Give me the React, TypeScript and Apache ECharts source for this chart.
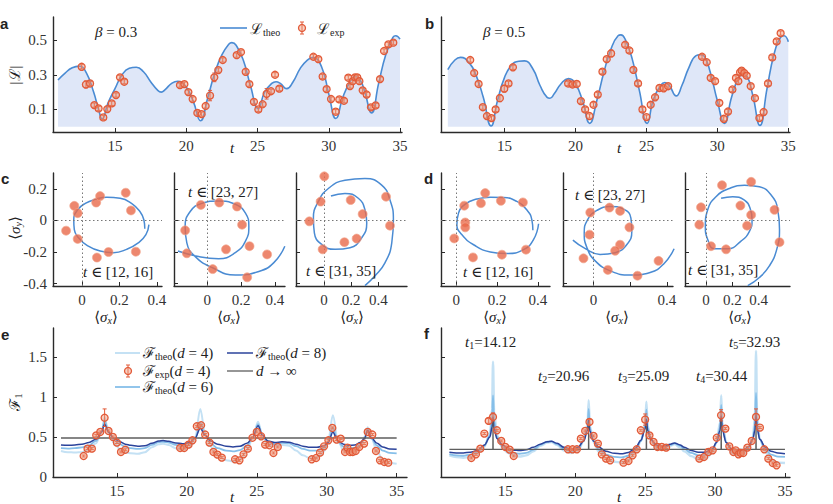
import React, { useEffect, useRef } from "react";
import * as echarts from "echarts";

type P = [number, number];
type E = [number, number, number?];

// ---------------- ticks / labels ----------------
const tTicks = [15, 20, 25, 30, 35];
const lTicks = [0.1, 0.3, 0.5];
const sigTicksY = [-0.4, -0.2, 0, 0.2];
const sigTicksX = [0, 0.2, 0.4];
const d2LabelsX = [0, 0.4];
const fTicks = [0, 0.5, 1, 1.5];
const betas = [0.3, 0.5];
const tRanges = [[12, 16], [23, 27], [31, 35]];
const peakTimes = [14.12, 20.96, 25.09, 30.44, 32.93];
const spikeHeights = [0.72, 0.68, 0.66, 0.72, 0.68];
const fInfBase = 0.346;
const eInf = 0.487;
const dValues = [4, 6, 8];
const errDefault = 0.012;

// ---------------- panel a / b ----------------
const aTheo: P[] = [
  [11.0, 0.27], [11.5, 0.31], [12.0, 0.34], [12.5, 0.35], [13.0, 0.31], [13.5, 0.2], [13.85, 0.1], [14.1, 0.045],
  [14.5, 0.135], [15.0, 0.22], [15.5, 0.3], [16.0, 0.337], [16.5, 0.343], [17.0, 0.317], [17.5, 0.26], [18.0, 0.21],
  [18.25, 0.2], [18.5, 0.213], [19.0, 0.252], [19.4, 0.263], [20.0, 0.23], [20.5, 0.145], [21.0, 0.035], [21.5, 0.165],
  [22.0, 0.31], [22.5, 0.415], [23.0, 0.477], [23.2, 0.485], [23.5, 0.47], [24.0, 0.385], [24.5, 0.24], [25.05, 0.105],
  [25.5, 0.2], [26.0, 0.25], [26.3, 0.26], [26.6, 0.25], [27.05, 0.22], [27.5, 0.26], [28.0, 0.337], [28.5, 0.385],
  [28.9, 0.4], [29.5, 0.345], [30.0, 0.19], [30.5, 0.048], [31.0, 0.173], [31.5, 0.26], [31.85, 0.29], [32.2, 0.27],
  [32.5, 0.21], [33.0, 0.08], [33.5, 0.25], [34.0, 0.415], [34.5, 0.515], [34.7, 0.525], [35.0, 0.505],
];
const aExp: E[] = [
  [12.66, 0.346], [12.96, 0.244, 0.02], [13.25, 0.25], [13.55, 0.125], [13.85, 0.106], [14.18, 0.054], [14.46, 0.102],
  [14.77, 0.135], [15.07, 0.183], [15.35, 0.285], [15.65, 0.26],
  [19.56, 0.24], [19.87, 0.246], [20.15, 0.2], [20.45, 0.16], [20.78, 0.08], [21.08, 0.073], [21.36, 0.12],
  [21.67, 0.18, 0.03], [21.97, 0.285, 0.025], [22.25, 0.327], [22.56, 0.385],
  [23.54, 0.413], [23.84, 0.43], [24.17, 0.317], [24.43, 0.246], [24.75, 0.144], [25.06, 0.1], [25.36, 0.13],
  [25.64, 0.19, 0.03], [25.95, 0.205], [26.23, 0.3], [26.53, 0.22],
  [28.92, 0.404], [29.27, 0.39], [29.57, 0.29], [29.85, 0.217], [30.16, 0.16], [30.49, 0.087], [30.74, 0.158],
  [31.07, 0.15], [31.37, 0.283], [31.49, 0.235], [31.68, 0.263], [31.84, 0.285], [32.0, 0.285], [32.15, 0.263],
  [32.38, 0.21], [32.66, 0.186], [32.96, 0.112], [33.29, 0.123], [33.6, 0.275], [33.88, 0.437], [34.18, 0.475],
  [34.53, 0.485],
];
const bTheo: P[] = [
  [11.0, 0.33], [11.5, 0.385], [11.9, 0.4], [12.5, 0.37], [13.0, 0.295], [13.5, 0.17], [14.05, 0.005], [14.5, 0.15],
  [15.0, 0.285], [15.5, 0.356], [16.0, 0.378], [16.4, 0.38], [17.0, 0.333], [17.5, 0.238], [18.0, 0.17], [18.2, 0.165],
  [18.5, 0.19], [19.0, 0.25], [19.5, 0.278], [20.0, 0.247], [20.5, 0.15], [21.0, 0.02], [21.5, 0.15], [22.0, 0.314],
  [22.5, 0.448], [23.0, 0.525], [23.2, 0.53], [23.5, 0.505], [24.0, 0.39], [24.5, 0.21], [25.05, 0.02], [25.5, 0.16],
  [26.0, 0.238], [26.3, 0.255], [26.6, 0.24], [27.1, 0.178], [27.5, 0.238], [28.0, 0.343], [28.5, 0.41], [28.8, 0.415],
  [29.1, 0.405], [29.5, 0.314], [30.0, 0.15], [30.5, 0.02], [31.0, 0.17], [31.5, 0.285], [31.8, 0.3], [32.1, 0.29],
  [32.5, 0.18], [33.0, 0.008], [33.5, 0.22], [34.0, 0.42], [34.5, 0.52], [34.7, 0.525], [35.0, 0.49],
];
const bExp: E[] = [
  [12.58, 0.385], [12.86, 0.31], [13.17, 0.247], [13.47, 0.113], [13.76, 0.062], [14.08, 0.05], [14.37, 0.1],
  [14.67, 0.165, 0.02], [14.98, 0.22, 0.02], [15.28, 0.25], [15.59, 0.343],
  [19.48, 0.25], [19.79, 0.244], [20.09, 0.247], [20.38, 0.148], [20.68, 0.1], [20.99, 0.062], [21.27, 0.127],
  [21.57, 0.186], [21.9, 0.318], [22.2, 0.39], [22.51, 0.423, 0.02],
  [23.5, 0.473], [23.8, 0.44], [24.08, 0.328], [24.41, 0.25], [24.72, 0.1], [25.0, 0.056], [25.3, 0.127],
  [25.61, 0.17], [25.92, 0.224], [26.22, 0.222], [26.53, 0.234],
  [28.92, 0.404], [29.25, 0.372], [29.53, 0.282], [29.84, 0.263], [30.14, 0.138], [30.45, 0.046], [30.75, 0.088],
  [31.06, 0.215], [31.31, 0.282], [31.48, 0.263], [31.6, 0.314], [31.71, 0.324], [31.9, 0.31], [32.07, 0.295],
  [32.35, 0.234], [32.65, 0.165], [32.96, 0.05], [33.26, 0.085], [33.57, 0.25], [33.87, 0.4], [34.18, 0.492],
  [34.46, 0.54],
];

// ---------------- panel c / d (Bloch trajectories) ----------------
const c1Curve: P[] = [
  [0.336, -0.052], [0.331, 0.004], [0.31, 0.056], [0.265, 0.108], [0.204, 0.14], [0.133, 0.146], [0.071, 0.133],
  [0.018, 0.108], [-0.023, 0.067], [-0.044, 0.004], [-0.041, -0.058], [-0.018, -0.11], [0.027, -0.158],
  [0.097, -0.194], [0.168, -0.204], [0.239, -0.183], [0.301, -0.142], [0.342, -0.09], [0.358, -0.027],
];
const c1Exp: P[] = [
  [-0.085, -0.065], [-0.041, 0.092], [-0.023, 0.046], [-0.023, -0.117], [0.076, 0.113], [0.097, 0.154],
  [0.142, -0.2], [0.08, -0.235], [0.234, 0.175], [0.262, 0.063], [0.288, -0.198],
];
const c2Curve: P[] = [
  [-0.174, -0.194], [-0.051, -0.229], [0.067, -0.242], [0.166, -0.204], [0.226, -0.131], [0.246, -0.038],
  [0.226, 0.046], [0.166, 0.102], [0.067, 0.123], [-0.032, 0.108], [-0.101, 0.056], [-0.131, -0.038],
  [-0.121, -0.142], [-0.071, -0.229], [0.028, -0.298], [0.166, -0.346], [0.305, -0.323], [0.394, -0.267],
  [0.459, -0.163],
];
const c2Exp: P[] = [
  [-0.038, 0.098], [0.071, 0.113], [0.176, 0.088], [0.206, -0.027], [-0.131, -0.063], [0.111, -0.183],
  [0.25, -0.163], [-0.121, -0.208], [0.354, -0.215], [0.032, -0.308], [0.236, -0.36],
];
const c3Curve: P[] = [
  [0.051, 0.154], [0.154, 0.171], [0.252, 0.14], [0.301, 0.067], [0.314, -0.017], [0.277, -0.11], [0.191, -0.173],
  [0.081, -0.183], [-0.017, -0.152], [-0.071, -0.079], [-0.078, 0.015], [-0.042, 0.119], [0.032, 0.202],
  [0.154, 0.254], [0.301, 0.265], [0.424, 0.223], [0.485, 0.129], [0.51, 0.004], [0.498, -0.142], [0.449, -0.267],
  [0.375, -0.35], [0.301, -0.413],
];
const c3Exp: P[] = [
  [0.002, 0.279], [-0.025, 0.119], [-0.108, -0.006], [0.196, 0.129], [0.284, 0.04], [0.456, 0.15], [0.485, -0.033],
  [-0.01, -0.183], [0.15, -0.138], [0.24, -0.115],
];
const d1Curve: P[] = [
  [0.376, -0.063], [0.371, 0.004], [0.346, 0.067], [0.297, 0.12], [0.232, 0.145], [0.167, 0.147], [0.101, 0.135],
  [0.044, 0.103], [0.011, 0.046], [0.003, -0.027], [0.028, -0.091], [0.085, -0.154], [0.167, -0.2], [0.248, -0.21],
  [0.33, -0.185], [0.379, -0.122], [0.404, -0.021],
];
const d1Exp: P[] = [
  [0.039, 0.093], [0.142, 0.173], [0.121, 0.109], [0.219, 0.124], [0.327, 0.114], [0.044, -0.013], [0.044, -0.044],
  [-0.01, -0.114], [0.082, -0.234], [0.224, -0.217], [0.342, -0.185],
];
const d2Curve: P[] = [
  [-0.113, -0.125], [-0.045, -0.179], [0.036, -0.215], [0.118, -0.204], [0.182, -0.152], [0.209, -0.069],
  [0.204, 0.015], [0.164, 0.071], [0.091, 0.088], [0.018, 0.063], [-0.033, 0.004], [-0.051, -0.079],
  [-0.036, -0.173], [0.009, -0.256], [0.091, -0.319], [0.2, -0.346], [0.309, -0.329], [0.382, -0.277],
  [0.44, -0.179],
];
const d2Exp: P[] = [
  [-0.018, 0.05], [0.087, 0.081], [0.145, 0.06], [0.196, -0.044], [-0.022, -0.09], [0.145, -0.154], [0.118, -0.192],
  [-0.055, -0.24], [0.078, -0.313], [0.24, -0.35], [0.355, -0.256],
];
const d3Curve: P[] = [
  [0.115, 0.14], [0.204, 0.15], [0.293, 0.129], [0.336, 0.077], [0.351, 0.004], [0.331, -0.069], [0.267, -0.131],
  [0.165, -0.179], [0.064, -0.179], [0.013, -0.121], [-0.005, -0.038], [0.013, 0.067], [0.076, 0.15],
  [0.178, 0.202], [0.293, 0.223], [0.407, 0.213], [0.496, 0.161], [0.547, 0.067], [0.56, -0.058], [0.539, -0.183],
  [0.483, -0.288], [0.407, -0.361], [0.318, -0.413],
];
const d3Exp: P[] = [
  [0.122, 0.223], [0.344, 0.244], [0.262, 0.094], [0.344, 0.035], [0.313, -0.033], [-0.038, 0.083], [-0.051, -0.027],
  [0.522, 0.067], [0.56, -0.138], [0.038, -0.163], [0.153, -0.183],
];

// ---------------- panel e ----------------
const eTheo4: P[] = [
  [11, 0.325], [11.5, 0.31], [12, 0.305], [12.5, 0.31], [13, 0.34], [13.5, 0.42], [13.9, 0.56], [14.12, 0.74],
  [14.4, 0.56], [14.8, 0.42], [15.2, 0.35], [15.6, 0.31], [16, 0.295], [16.5, 0.29], [17, 0.31], [17.5, 0.37],
  [18, 0.41], [18.3, 0.415], [18.7, 0.4], [19.2, 0.36], [19.7, 0.34], [20.2, 0.37], [20.6, 0.5], [20.96, 0.85],
  [21.3, 0.55], [21.7, 0.38], [22.2, 0.27], [22.8, 0.21], [23.3, 0.195], [23.8, 0.22], [24.3, 0.33], [24.7, 0.48],
  [25.09, 0.69], [25.4, 0.52], [25.8, 0.4], [26.3, 0.38], [26.8, 0.4], [27.3, 0.39], [27.8, 0.33], [28.3, 0.27],
  [28.8, 0.235], [29.3, 0.24], [29.8, 0.32], [30.1, 0.45], [30.44, 0.77], [30.8, 0.45], [31.2, 0.33], [31.6, 0.31],
  [32, 0.32], [32.4, 0.39], [32.7, 0.5], [32.93, 0.62], [33.2, 0.48], [33.6, 0.32], [34, 0.22], [34.5, 0.175],
  [35, 0.165],
];
const eTheo6: P[] = [
  [11, 0.36], [11.5, 0.355], [12, 0.36], [12.5, 0.37], [13, 0.395], [13.5, 0.45], [13.9, 0.56], [14.12, 0.7],
  [14.4, 0.57], [14.8, 0.46], [15.2, 0.41], [15.6, 0.375], [16, 0.36], [16.5, 0.35], [17, 0.36], [17.5, 0.4],
  [18, 0.435], [18.3, 0.44], [18.7, 0.43], [19.2, 0.4], [19.7, 0.385], [20.2, 0.405], [20.6, 0.48], [20.96, 0.68],
  [21.3, 0.52], [21.7, 0.42], [22.2, 0.36], [22.8, 0.33], [23.3, 0.32], [23.8, 0.335], [24.3, 0.39], [24.7, 0.49],
  [25.09, 0.66], [25.4, 0.52], [25.8, 0.43], [26.3, 0.41], [26.8, 0.425], [27.3, 0.42], [27.8, 0.385], [28.3, 0.35],
  [28.8, 0.33], [29.3, 0.33], [29.8, 0.36], [30.1, 0.42], [30.44, 0.62], [30.8, 0.44], [31.2, 0.38], [31.6, 0.36],
  [32, 0.365], [32.4, 0.4], [32.7, 0.47], [32.93, 0.6], [33.2, 0.48], [33.6, 0.39], [34, 0.33], [34.5, 0.3],
  [35, 0.295],
];
const eTheo8: P[] = [
  [11, 0.4], [11.5, 0.395], [12, 0.4], [12.5, 0.41], [13, 0.43], [13.5, 0.47], [13.9, 0.56], [14.12, 0.66],
  [14.4, 0.56], [14.8, 0.48], [15.2, 0.44], [15.6, 0.41], [16, 0.395], [16.5, 0.385], [17, 0.39], [17.5, 0.42],
  [18, 0.45], [18.3, 0.455], [18.7, 0.445], [19.2, 0.425], [19.7, 0.415], [20.2, 0.43], [20.6, 0.49], [20.96, 0.61],
  [21.3, 0.52], [21.7, 0.45], [22.2, 0.41], [22.8, 0.385], [23.3, 0.375], [23.8, 0.385], [24.3, 0.42], [24.7, 0.49],
  [25.09, 0.64], [25.4, 0.52], [25.8, 0.45], [26.3, 0.43], [26.8, 0.44], [27.3, 0.435], [27.8, 0.41], [28.3, 0.385],
  [28.8, 0.37], [29.3, 0.37], [29.8, 0.39], [30.1, 0.43], [30.44, 0.56], [30.8, 0.45], [31.2, 0.41], [31.6, 0.395],
  [32, 0.4], [32.4, 0.43], [32.7, 0.48], [32.93, 0.58], [33.2, 0.49], [33.6, 0.42], [34, 0.375], [34.5, 0.35],
  [35, 0.345],
];
const eExp: E[] = [
  [12.62, 0.262], [12.9, 0.354], [13.21, 0.354], [13.52, 0.52], [13.81, 0.5625], [14.12, 0.74, 0.11], [14.4, 0.575],
  [14.71, 0.5], [15.0, 0.43], [15.29, 0.3125], [15.6, 0.34],
  [19.52, 0.3625], [19.81, 0.3625], [20.12, 0.404], [20.4, 0.458], [20.71, 0.633], [21.02, 0.646], [21.31, 0.53],
  [21.62, 0.43], [21.9, 0.3125], [22.19, 0.279], [22.5, 0.242],
  [23.45, 0.221], [23.76, 0.208], [24.05, 0.283], [24.36, 0.354], [24.69, 0.49], [25.0, 0.5625], [25.31, 0.508],
  [25.6, 0.404], [25.9, 0.396], [26.19, 0.3], [26.5, 0.375],
  [28.93, 0.221], [29.24, 0.2375], [29.52, 0.304], [29.81, 0.383], [30.12, 0.458], [30.4, 0.6125], [30.71, 0.467],
  [31.0, 0.479], [31.31, 0.3125], [31.48, 0.367], [31.67, 0.3125], [31.86, 0.3125], [32.07, 0.325], [32.33, 0.375],
  [32.67, 0.417], [32.93, 0.5625], [33.26, 0.53], [33.52, 0.325], [33.81, 0.208], [34.12, 0.1875], [34.4, 0.179],
];

// ---------------- panel f ----------------
const fTheo4: P[] = [
  [11, 0.27], [11.5, 0.25], [12, 0.24], [12.5, 0.25], [13, 0.29], [13.5, 0.38], [13.9, 0.55], [14.05, 0.85],
  [14.12, 1.44], [14.2, 0.82], [14.4, 0.52], [14.8, 0.36], [15.2, 0.3], [15.6, 0.27], [16, 0.255], [16.5, 0.27],
  [17, 0.32], [17.5, 0.39], [18, 0.43], [18.3, 0.435], [18.7, 0.4], [19.2, 0.33], [19.7, 0.3], [20.2, 0.33],
  [20.6, 0.45], [20.88, 0.65], [20.96, 0.96], [21.05, 0.63], [21.3, 0.44], [21.7, 0.31], [22.2, 0.23], [22.8, 0.19],
  [23.3, 0.18], [23.8, 0.21], [24.3, 0.3], [24.7, 0.45], [25.0, 0.66], [25.09, 0.94], [25.18, 0.64], [25.4, 0.47],
  [25.8, 0.36], [26.3, 0.34], [26.8, 0.39], [27.1, 0.41], [27.5, 0.37], [27.8, 0.32], [28.3, 0.26], [28.8, 0.22],
  [29.3, 0.225], [29.8, 0.3], [30.1, 0.43], [30.36, 0.68], [30.44, 1.02], [30.52, 0.68], [30.8, 0.43], [31.2, 0.3],
  [31.6, 0.27], [32, 0.28], [32.4, 0.35], [32.7, 0.48], [32.85, 0.75], [32.93, 1.575], [33.01, 0.75], [33.2, 0.47],
  [33.6, 0.31], [34, 0.22], [34.5, 0.18], [35, 0.175],
];
const fTheo6: P[] = [
  [11, 0.285], [11.5, 0.27], [12, 0.265], [12.5, 0.28], [13, 0.31], [13.5, 0.39], [13.9, 0.52], [14.05, 0.72],
  [14.12, 1.02], [14.2, 0.7], [14.4, 0.5], [14.8, 0.38], [15.2, 0.33], [15.6, 0.3], [16, 0.29], [16.5, 0.3],
  [17, 0.34], [17.5, 0.4], [18, 0.44], [18.3, 0.445], [18.7, 0.41], [19.2, 0.35], [19.7, 0.32], [20.2, 0.35],
  [20.6, 0.45], [20.88, 0.62], [20.96, 0.85], [21.05, 0.6], [21.3, 0.45], [21.7, 0.34], [22.2, 0.28], [22.8, 0.25],
  [23.3, 0.245], [23.8, 0.265], [24.3, 0.33], [24.7, 0.45], [25.0, 0.63], [25.09, 0.84], [25.18, 0.62], [25.4, 0.47],
  [25.8, 0.38], [26.3, 0.36], [26.8, 0.4], [27.1, 0.42], [27.5, 0.39], [27.8, 0.35], [28.3, 0.3], [28.8, 0.27],
  [29.3, 0.275], [29.8, 0.33], [30.1, 0.43], [30.36, 0.62], [30.44, 0.9], [30.52, 0.62], [30.8, 0.43], [31.2, 0.33],
  [31.6, 0.3], [32, 0.31], [32.4, 0.37], [32.7, 0.48], [32.85, 0.65], [32.93, 1.05], [33.01, 0.65], [33.2, 0.47],
  [33.6, 0.34], [34, 0.28], [34.5, 0.255], [35, 0.25],
];
const fTheo8: P[] = [
  [11, 0.31], [11.5, 0.3], [12, 0.3], [12.5, 0.31], [13, 0.33], [13.5, 0.4], [13.9, 0.5], [14.05, 0.62],
  [14.12, 0.75], [14.2, 0.6], [14.4, 0.48], [14.8, 0.4], [15.2, 0.36], [15.6, 0.335], [16, 0.33], [16.5, 0.34],
  [17, 0.37], [17.5, 0.41], [18, 0.44], [18.3, 0.445], [18.7, 0.42], [19.2, 0.37], [19.7, 0.35], [20.2, 0.37],
  [20.6, 0.45], [20.88, 0.58], [20.96, 0.72], [21.05, 0.57], [21.3, 0.45], [21.7, 0.37], [22.2, 0.32], [22.8, 0.295],
  [23.3, 0.29], [23.8, 0.305], [24.3, 0.36], [24.7, 0.46], [25.0, 0.6], [25.09, 0.72], [25.18, 0.58], [25.4, 0.47],
  [25.8, 0.4], [26.3, 0.38], [26.8, 0.41], [27.1, 0.425], [27.5, 0.4], [27.8, 0.37], [28.3, 0.33], [28.8, 0.31],
  [29.3, 0.31], [29.8, 0.35], [30.1, 0.43], [30.36, 0.58], [30.44, 0.76], [30.52, 0.58], [30.8, 0.43], [31.2, 0.35],
  [31.6, 0.32], [32, 0.33], [32.4, 0.38], [32.7, 0.47], [32.85, 0.58], [32.93, 0.78], [33.01, 0.6], [33.2, 0.47],
  [33.6, 0.37], [34, 0.32], [34.5, 0.3], [35, 0.29],
];
const fExp: E[] = [
  [12.57, 0.2375], [12.9, 0.283], [13.21, 0.354], [13.5, 0.542], [13.81, 0.7, 0.03], [14.12, 0.75, 0.05], [14.4, 0.583],
  [14.71, 0.45], [15.0, 0.375], [15.31, 0.342], [15.6, 0.2625],
  [19.48, 0.346], [19.81, 0.346], [20.12, 0.346], [20.4, 0.479], [20.71, 0.575], [21.02, 0.6875, 0.03], [21.31, 0.5125],
  [21.62, 0.417], [21.9, 0.283], [22.21, 0.229], [22.5, 0.208],
  [23.45, 0.179], [23.81, 0.2], [24.1, 0.271], [24.4, 0.346], [24.69, 0.583], [25.0, 0.717, 0.07], [25.31, 0.52],
  [25.6, 0.4375], [25.88, 0.375], [26.19, 0.375], [26.5, 0.367],
  [28.88, 0.229], [29.21, 0.25], [29.52, 0.3125], [29.83, 0.333], [30.12, 0.49], [30.43, 0.77, 0.07], [30.74, 0.604],
  [31.02, 0.383], [31.31, 0.3125], [31.48, 0.333], [31.67, 0.283], [31.83, 0.3], [32.02, 0.3], [32.31, 0.367],
  [32.62, 0.45], [32.93, 0.75, 0.1], [33.21, 0.617], [33.52, 0.346], [33.81, 0.229], [34.12, 0.175], [34.4, 0.146],
];

// ---------------- styling ----------------
const SERIF = "Liberation Serif, DejaVu Serif, serif";
const SANS = "Liberation Sans, DejaVu Sans, Arial, sans-serif";
const INK = "#222";
const AXC = "#2a2a2a";
const BLUE = "#4a8bd3";
const FILL = "#dfe7f8";
const ORANGE = "#e25a38";
const MFILL = "rgba(240,150,120,0.45)";
const L4 = "#c4e1f4";
const L6 = "#86bfe9";
const L8 = "#2b439b";
const LINF = "#5e5e5e";

const RICH: any = {
  m: { fontFamily: SERIF, fontSize: 15, fill: INK, color: INK, lineHeight: 16 },
  i: { fontFamily: SERIF, fontSize: 15, fontStyle: "italic", fill: INK, color: INK, lineHeight: 16 },
  s: { fontFamily: SERIF, fontSize: 10, fill: INK, color: INK, lineHeight: 6, verticalAlign: "bottom" },
  si: { fontFamily: SERIF, fontSize: 10, fontStyle: "italic", fill: INK, color: INK, lineHeight: 6, verticalAlign: "bottom" },
};

const grids = [
  { left: 53, top: 17, width: 349, height: 115 },
  { left: 441, top: 17, width: 349, height: 115 },
  { left: 53, top: 173, width: 109, height: 113 },
  { left: 174, top: 173, width: 111, height: 113 },
  { left: 296, top: 173, width: 111, height: 113 },
  { left: 441, top: 173, width: 109, height: 113 },
  { left: 563, top: 173, width: 110, height: 113 },
  { left: 685, top: 173, width: 105, height: 113 },
  { left: 53, top: 328, width: 354, height: 149 },
  { left: 441, top: 328, width: 349, height: 149 },
];

function axis(gridIndex: number, min: number, max: number, ticks: number[], labels: number[]) {
  return {
    type: "value",
    gridIndex,
    min,
    max,
    axisLine: { show: true, onZero: false, lineStyle: { color: AXC, width: 1.4 } },
    axisTick: { show: true, inside: true, length: 4, customValues: ticks, lineStyle: { color: AXC, width: 1 } },
    axisLabel: labels.length
      ? { show: true, customValues: labels, fontFamily: SERIF, fontSize: 15, color: "#333", margin: 6 }
      : { show: false },
    splitLine: { show: false },
  };
}

const renderErr = (_p: any, api: any) => {
  const x = api.value(0);
  const y = api.value(1);
  const e = api.value(2);
  const p1 = api.coord([x, y + e]);
  const p2 = api.coord([x, y - e]);
  const st = { stroke: ORANGE, lineWidth: 1 };
  return {
    type: "group",
    children: [
      { type: "line", shape: { x1: p1[0], y1: p1[1], x2: p2[0], y2: p2[1] }, style: st },
      { type: "line", shape: { x1: p1[0] - 2, y1: p1[1], x2: p1[0] + 2, y2: p1[1] }, style: st },
      { type: "line", shape: { x1: p2[0] - 2, y1: p2[1], x2: p2[0] + 2, y2: p2[1] }, style: st },
    ],
  };
};

const on = (i: number) => ({ xAxisIndex: i, yAxisIndex: i });

function expSeries(i: number, data: E[]) {
  const full = data.map((p) => [p[0], p[1], p[2] ?? errDefault]);
  return [
    { type: "custom", ...on(i), data: full, renderItem: renderErr, encode: { x: 0, y: 1 }, z: 4, silent: true },
    {
      type: "scatter",
      ...on(i),
      data: full.map((p) => [p[0], p[1]]),
      symbol: "circle",
      symbolSize: 7,
      itemStyle: { color: MFILL, borderColor: ORANGE, borderWidth: 1.3, opacity: 1 },
      z: 5,
      silent: true,
    },
  ];
}

function txt(x: number, y: number, text: string, o: any = {}) {
  return {
    type: "text",
    x,
    y,
    rotation: o.rotation ?? 0,
    silent: true,
    z: 100,
    style: {
      text,
      rich: RICH,
      fill: INK,
      font: o.font ?? `15px ${SERIF}`,
      align: o.align ?? "left",
      verticalAlign: "middle",
    },
  };
}
const hline = (x1: number, x2: number, y: number, color: string, w: number) => ({
  type: "line",
  silent: true,
  z: 100,
  shape: { x1, y1: y, x2, y2: y },
  style: { stroke: color, lineWidth: w },
});
const legMarker = (cx: number, cy: number) => [
  { type: "line", z: 100, shape: { x1: cx, y1: cy - 6, x2: cx, y2: cy + 6 }, style: { stroke: ORANGE, lineWidth: 1 } },
  { type: "line", z: 100, shape: { x1: cx - 2, y1: cy - 6, x2: cx + 2, y2: cy - 6 }, style: { stroke: ORANGE, lineWidth: 1 } },
  { type: "line", z: 100, shape: { x1: cx - 2, y1: cy + 6, x2: cx + 2, y2: cy + 6 }, style: { stroke: ORANGE, lineWidth: 1 } },
  { type: "circle", z: 101, shape: { cx, cy, r: 3.5 }, style: { fill: MFILL, stroke: ORANGE, lineWidth: 1.3 } },
];

function buildOption(): any {
  const xAxes = [
    axis(0, 10.65, 35.14, tTicks, tTicks),
    axis(1, 10.52, 35.12, tTicks, tTicks),
    axis(2, -0.155, 0.428, sigTicksX, sigTicksX),
    axis(3, -0.197, 0.46, sigTicksX, sigTicksX),
    axis(4, -0.206, 0.61, sigTicksX, sigTicksX),
    axis(5, -0.075, 0.46, sigTicksX, sigTicksX),
    axis(6, -0.167, 0.434, sigTicksX, d2LabelsX),
    axis(7, -0.16, 0.64, sigTicksX, sigTicksX),
    axis(8, 10.43, 35.74, tTicks, tTicks),
    axis(9, 10.4, 35.36, tTicks, tTicks),
  ];
  const yAxes = [
    axis(0, -0.03, 0.633, lTicks, lTicks),
    axis(1, -0.03, 0.633, lTicks, []),
    axis(2, -0.415, 0.3, sigTicksY, sigTicksY),
    axis(3, -0.415, 0.3, sigTicksY, []),
    axis(4, -0.415, 0.3, sigTicksY, []),
    axis(5, -0.415, 0.3, sigTicksY, []),
    axis(6, -0.415, 0.3, sigTicksY, []),
    axis(7, -0.415, 0.3, sigTicksY, []),
    axis(8, 0, 1.86, fTicks, fTicks),
    axis(9, 0, 1.86, fTicks, []),
  ];

  const series: any[] = [];
  [aTheo, bTheo].forEach((d, k) => {
    series.push({
      type: "line",
      ...on(k),
      data: d,
      smooth: 0.5,
      showSymbol: false,
      symbol: "none",
      lineStyle: { color: BLUE, width: 1.6 },
      areaStyle: { color: FILL, opacity: 1 },
      z: 2,
      silent: true,
    });
  });
  series.push(...expSeries(0, aExp), ...expSeries(1, bExp));

  const curves = [c1Curve, c2Curve, c3Curve, d1Curve, d2Curve, d3Curve];
  const pts = [c1Exp, c2Exp, c3Exp, d1Exp, d2Exp, d3Exp];
  curves.forEach((cur, k) => {
    const i = k + 2;
    series.push({
      type: "line",
      ...on(i),
      data: cur,
      smooth: 0.5,
      showSymbol: false,
      symbol: "none",
      lineStyle: { color: BLUE, width: 1.5 },
      z: 3,
      silent: true,
      markLine: {
        silent: true,
        symbol: "none",
        label: { show: false },
        lineStyle: { color: "#777", type: [1.5, 2.5], width: 1 },
        data: [{ xAxis: 0 }, { yAxis: 0 }],
      },
    });
    series.push({
      type: "scatter",
      ...on(i),
      data: pts[k],
      symbol: "circle",
      symbolSize: 9,
      itemStyle: { color: "#e9694a", borderColor: "#f3a58c", borderWidth: 0.8 },
      z: 5,
      silent: true,
    });
  });

  const lineS = (i: number, data: P[], color: string, width: number, z = 2, smooth: any = 0.35) => ({
    type: "line",
    ...on(i),
    data,
    smooth,
    smoothMonotone: "x",
    showSymbol: false,
    symbol: "none",
    lineStyle: { color, width },
    z,
    silent: true,
  });
  series.push(lineS(8, eTheo4, L4, 2), lineS(8, eTheo6, L6, 1.8), lineS(8, eTheo8, L8, 1.5));
  series.push(lineS(8, [[11, eInf], [35, eInf]], LINF, 1.3, 3, false));
  series.push(...expSeries(8, eExp));

  const fInf: P[] = [[11, fInfBase]];
  peakTimes.forEach((t, k) => {
    fInf.push([t - 0.01, fInfBase], [t, spikeHeights[k]], [t + 0.01, fInfBase]);
  });
  fInf.push([35, fInfBase]);
  series.push(lineS(9, fTheo4, L4, 2.4), lineS(9, fTheo6, L6, 1.8), lineS(9, fTheo8, L8, 1.5));
  series.push(lineS(9, fInf, LINF, 1.3, 3, false));
  series.push(...expSeries(9, fExp));

  const sx = "{m|⟨}{i|σ}{si|x}{m|⟩}";
  const sy = "{m|⟨}{i|σ}{si|y}{m|⟩}";
  const theo = (d: number) => `{m|ℱ}{s|theo}{m|(}{i|d}{m| = ${d})}`;
  const bold = `bold 15px ${SANS}`;

  const graphic: any[] = [
    txt(0, 23, "a", { font: bold }),
    txt(425, 23, "b", { font: bold }),
    txt(1, 178, "c", { font: bold }),
    txt(424, 178, "d", { font: bold }),
    txt(1, 334, "e", { font: bold }),
    txt(424, 333, "f", { font: bold }),
    txt(95, 32, `{i|β}{m| = ${betas[0]}}`),
    txt(483, 32, `{i|β}{m| = ${betas[1]}}`),
    hline(220, 247, 28, BLUE, 1.6),
    txt(250, 29, "{m|ℒ}{s|theo}"),
    ...legMarker(302, 28),
    txt(317, 29, "{m|ℒ}{s|exp}"),
    txt(15, 75, "|ℒ|", { rotation: Math.PI / 2, align: "center" }),
    txt(232, 148, "{i|t}", { align: "center" }),
    txt(619, 148, "{i|t}", { align: "center" }),
    txt(15, 228, sy, { rotation: Math.PI / 2, align: "center" }),
    txt(83, 272, `{i|t}{m| ∈ [${tRanges[0][0]}, ${tRanges[0][1]}]}`),
    txt(188, 192, `{i|t}{m| ∈ [${tRanges[1][0]}, ${tRanges[1][1]}]}`),
    txt(306, 271, `{i|t}{m| ∈ [${tRanges[2][0]}, ${tRanges[2][1]}]}`),
    txt(463, 272, `{i|t}{m| ∈ [${tRanges[0][0]}, ${tRanges[0][1]}]}`),
    txt(575, 195, `{i|t}{m| ∈ [${tRanges[1][0]}, ${tRanges[1][1]}]}`),
    txt(688, 270, `{i|t}{m| ∈ [${tRanges[2][0]}, ${tRanges[2][1]}]}`),
    txt(106, 317, sx, { align: "center" }),
    txt(229, 317, sx, { align: "center" }),
    txt(352, 317, sx, { align: "center" }),
    txt(495, 317, sx, { align: "center" }),
    txt(617, 317, sx, { align: "center" }),
    txt(740, 317, sx, { align: "center" }),
    // e legend
    hline(115, 140, 353, L4, 2),
    txt(143, 353, theo(dValues[0])),
    hline(227, 253, 353, L8, 1.5),
    txt(256, 353, theo(dValues[2])),
    ...legMarker(128, 371),
    txt(143, 371, `{m|ℱ}{s|exp}{m|(}{i|d}{m| = ${dValues[0]})}`),
    hline(227, 253, 371, LINF, 1.3),
    txt(256, 371, "{i|d}{m| → ∞}"),
    hline(115, 140, 387, L6, 1.8),
    txt(143, 387, theo(dValues[1])),
    txt(15, 402, "{m|ℱ}{s|1}", { rotation: Math.PI / 2, align: "center" }),
    txt(232, 497, "{i|t}", { align: "center" }),
    txt(619, 497, "{i|t}", { align: "center" }),
  ];
  const annX = [465, 538, 618, 696, 729];
  const annY = [342, 376, 376, 376, 342];
  peakTimes.forEach((t, k) => {
    graphic.push(txt(annX[k], annY[k], `{i|t}{s|${k + 1}}{m|=${t.toFixed(2)}}`));
  });

  return {
    animation: false,
    backgroundColor: "#ffffff",
    grid: grids.map((g) => ({ ...g, containLabel: false })),
    xAxis: xAxes,
    yAxis: yAxes,
    series,
    graphic,
  };
}

export default function App() {
  const ref = useRef<HTMLDivElement>(null);
  useEffect(() => {
    if (!ref.current) return;
    const chart = echarts.init(ref.current, null, { renderer: "svg" });
    chart.setOption(buildOption());
    return () => chart.dispose();
  }, []);
  return (
    <div
      ref={ref}
      style={{ position: "fixed", left: 0, top: 0, width: 833, height: 504, background: "#fff" }}
    />
  );
}
